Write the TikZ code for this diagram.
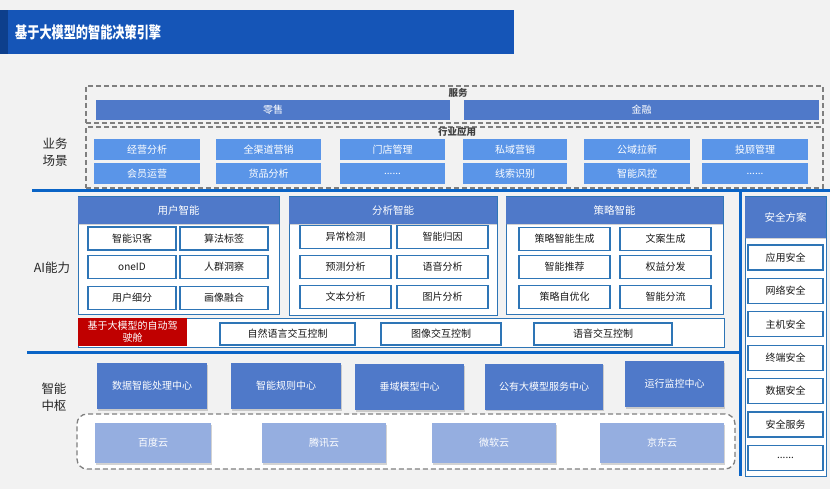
\documentclass[tikz,border=0pt]{standalone}
\usepackage{fontspec}
\setmainfont{Noto Sans CJK SC}
\usetikzlibrary{positioning, shadows}

\definecolor{bggray}{HTML}{F2F2F2}
\definecolor{titleblue}{HTML}{1555B7}
\definecolor{titledark}{HTML}{0D3F8C}
\definecolor{svcblue}{HTML}{4F79C9}
\definecolor{appblue}{HTML}{5A95E8}
\definecolor{lineblue}{HTML}{0A64C6}
\definecolor{itemline}{HTML}{2E75B6}
\definecolor{cloudblue}{HTML}{95AEE0}
\definecolor{dashgray}{HTML}{7F7F7F}
\definecolor{pilotred}{HTML}{C00000}

\begin{document}
\begin{tikzpicture}[x=1pt, y=-1pt, inner sep=0pt, font=\fontsize{10}{12}\selectfont,
  bar/.style={rectangle, fill=svcblue, text=white, minimum height=20pt},
  tile/.style={rectangle, fill=appblue, text=white, minimum height=21pt},
  zone/.style={rectangle, draw=dashgray, line width=1.3pt, dash pattern=on 5pt off 3pt},
  zonelabel/.style={font=\fontsize{9.5}{11}\selectfont\bfseries, text=black!75},
  sidelabel/.style={font=\fontsize{12.5}{17}\selectfont, text=black!85, align=center},
  sepline/.style={draw=lineblue, line width=3pt},
  panel/.style={rectangle, draw=itemline, line width=1pt, fill=white},
  head/.style={rectangle, fill=svcblue, text=white, font=\fontsize{10.5}{12}\selectfont, drop shadow={shadow xshift=0pt, shadow yshift=-1.5pt, opacity=0.35}},
  item/.style={rectangle, draw=itemline, line width=1.3pt, fill=white, text=black!90, minimum height=23pt},
  hub/.style={rectangle, fill=svcblue, text=white, minimum height=46pt, drop shadow={shadow xshift=1pt, shadow yshift=-1.5pt, opacity=0.35}},
  cloud/.style={rectangle, fill=cloudblue, text=white, minimum width=124pt, minimum height=40pt, drop shadow={shadow xshift=1pt, shadow yshift=-1.5pt, opacity=0.35}}]

\useasboundingbox (0,0) rectangle (830,489);
\fill[bggray] (0,0) rectangle (830,489);

% title bar
\fill[titleblue] (0,10) rectangle (514,54);
\fill[titledark] (0,10) rectangle (8,54);
\node[anchor=west, text=white] (title) at (15,32) {\scalebox{0.76}[1]{\fontsize{16}{18}\selectfont\bfseries 基于大模型的智能决策引擎}};

% business scenes
\node[sidelabel] (biz) at (55,152) {业务\\场景};

\node[zone, minimum width=737pt, minimum height=37pt] (service) at (454.5,104.5) {};
\node[zonelabel] (servicelabel) at (458,93) {服务};
\node[bar, minimum width=354pt] (retail) at (273,110) {零售};
\node[bar, minimum width=355pt] (finance) at (641.5,110) {金融};

\node[zone, minimum width=737pt, minimum height=61pt] (industry) at (454.5,157.5) {};
\node[zonelabel] (industrylabel) at (457,132) {行业应用};
\node[tile, minimum width=106pt] (opana) at (147,150) {经营分析};
\node[tile, minimum width=105pt] (omni) at (268.5,150) {全渠道营销};
\node[tile, minimum width=105pt] (store) at (392.5,150) {门店管理};
\node[tile, minimum width=104pt] (private) at (515,150) {私域营销};
\node[tile, minimum width=106pt] (public) at (637,150) {公域拉新};
\node[tile, minimum width=106pt] (advisor) at (755,150) {投顾管理};
\node[tile, minimum width=106pt] (member) at (147,174) {会员运营};
\node[tile, minimum width=105pt] (goods) at (268.5,174) {货品分析};
\node[tile, minimum width=105pt] (moreA) at (392.5,174) {......};
\node[tile, minimum width=104pt] (leads) at (515,174) {线索识别};
\node[tile, minimum width=106pt] (risk) at (637,174) {智能风控};
\node[tile, minimum width=106pt] (moreB) at (755,174) {......};

% separators
\draw[sepline] (32,191) -- (830,191);
\draw[sepline] (27,352) -- (740,352);
\draw[sepline] (740,191) -- (740,476);

% AI abilities
\node[sidelabel] (ai) at (52,268) {AI能力};

\node[panel, minimum width=201pt, minimum height=117pt] (userpanel) at (178.5,255.5) {};
\node[head, minimum width=201pt, minimum height=27pt] (userhead) at (178.5,210.5) {用户智能};
\node[item, minimum width=88pt] (u1) at (132,238.5) {智能识客};
\node[item, minimum width=88pt] (u2) at (224,238.5) {算法标签};
\node[item, minimum width=88pt] (u3) at (132,267) {oneID};
\node[item, minimum width=88pt] (u4) at (224,267) {人群洞察};
\node[item, minimum width=88pt] (u5) at (132,298) {用户细分};
\node[item, minimum width=88pt] (u6) at (224,298) {画像融合};

\node[panel, minimum width=208pt, minimum height=118pt] (anapanel) at (393,256) {};
\node[head, minimum width=208pt, minimum height=27pt] (anahead) at (393,210.5) {分析智能};
\node[item, minimum width=91pt] (a1) at (345.5,237) {异常检测};
\node[item, minimum width=91pt] (a2) at (442.5,237) {智能归因};
\node[item, minimum width=91pt] (a3) at (345.5,267) {预测分析};
\node[item, minimum width=91pt] (a4) at (442.5,267) {语音分析};
\node[item, minimum width=91pt] (a5) at (345.5,297) {文本分析};
\node[item, minimum width=91pt] (a6) at (442.5,297) {图片分析};

\node[panel, minimum width=217pt, minimum height=117pt] (stratpanel) at (614.5,255.5) {};
\node[head, minimum width=217pt, minimum height=27pt] (strathead) at (614.5,210.5) {策略智能};
\node[item, minimum width=91pt] (s1) at (564.5,239) {策略智能生成};
\node[item, minimum width=91pt] (s2) at (665.5,239) {文案生成};
\node[item, minimum width=91pt] (s3) at (564.5,267) {智能推荐};
\node[item, minimum width=91pt] (s4) at (665.5,267) {权益分发};
\node[item, minimum width=91pt] (s5) at (564.5,297) {策略自优化};
\node[item, minimum width=91pt] (s6) at (665.5,297) {智能分流};

\node[panel, minimum width=646pt, minimum height=29pt] (ctrlrow) at (401,332.5) {};
\node[rectangle, fill=pilotred, text=white, align=center, minimum width=109pt, minimum height=28pt, font=\fontsize{10}{12}\selectfont] (pilot) at (132.5,332) {基于大模型的自动驾\\驶舱};
\node[item, minimum width=135pt, minimum height=22pt] (nlctrl) at (287.5,334) {自然语言交互控制};
\node[item, minimum width=120pt, minimum height=22pt] (imgctrl) at (441,334) {图像交互控制};
\node[item, minimum width=138pt, minimum height=22pt] (voicectrl) at (603,334) {语音交互控制};

% intelligent hub
\node[sidelabel] (hubl) at (54,397) {智能\\中枢};

\node[hub, minimum width=110pt] (dataproc) at (152,386) {数据智能处理中心};
\node[hub, minimum width=110pt] (rules) at (286,386) {智能规则中心};
\node[hub, minimum width=109pt] (domain) at (409.5,387) {垂域模型中心};
\node[hub, minimum width=118pt] (llmsvc) at (544,386.5) {公有大模型服务中心};
\node[hub, minimum width=99pt] (monitor) at (674.5,384) {运行监控中心};

\node[zone, rounded corners=10pt, fill=white, minimum width=658pt, minimum height=55pt] (cloudzone) at (406,441.5) {};
\node[cloud, minimum width=116pt] (baidu) at (153,443) {百度云};
\node[cloud] (tencent) at (324,443) {腾讯云};
\node[cloud] (msft) at (494,443) {微软云};
\node[cloud] (jd) at (662,443) {京东云};

% security column
\node[panel, minimum width=81pt, minimum height=279pt] (secpanel) at (785.5,336.5) {};
\node[head, minimum width=81pt, minimum height=41pt] (sechead) at (785.5,217.5) {安全方案};
\node[item, minimum width=75pt, minimum height=25pt] (sec1) at (785.5,257.5) {应用安全};
\node[item, minimum width=75pt, minimum height=25pt] (sec2) at (785.5,290.9) {网络安全};
\node[item, minimum width=75pt, minimum height=25pt] (sec3) at (785.5,324.3) {主机安全};
\node[item, minimum width=75pt, minimum height=25pt] (sec4) at (785.5,357.7) {终端安全};
\node[item, minimum width=75pt, minimum height=25pt] (sec5) at (785.5,391.1) {数据安全};
\node[item, minimum width=75pt, minimum height=25pt] (sec6) at (785.5,424.5) {安全服务};
\node[item, minimum width=75pt, minimum height=25pt] (sec7) at (785.5,457.9) {......};

\end{tikzpicture}
\end{document}
